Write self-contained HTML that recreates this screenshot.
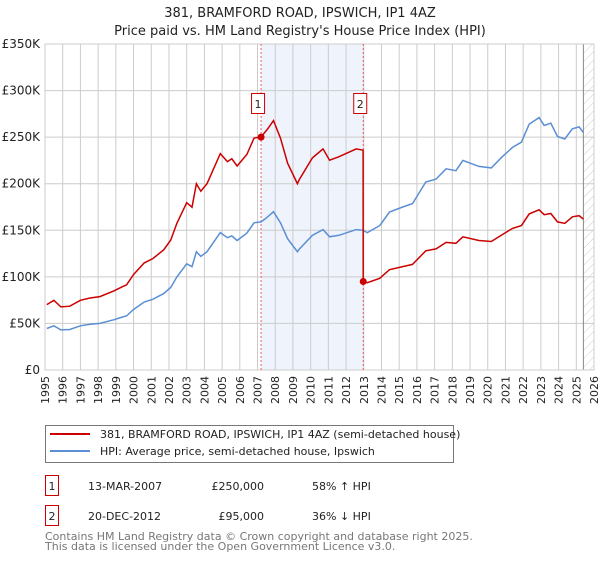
<!DOCTYPE html>
<html><head><meta charset="utf-8"><style>
body{margin:0;background:#fff;font-family:"Liberation Sans","DejaVu Sans",sans-serif;}
svg text{font-family:"DejaVu Sans","Liberation Sans",sans-serif;}
</style></head><body>
<svg id="chart" width="600" height="560" xmlns="http://www.w3.org/2000/svg">
<defs><pattern id="hatch" width="6" height="6" patternUnits="userSpaceOnUse" patternTransform="rotate(45)"><line x1="0" y1="0" x2="0" y2="6" stroke="#ccc" stroke-width="1"/></pattern></defs>
<text x="300" y="17" text-anchor="middle" font-size="13" fill="#222">381, BRAMFORD ROAD, IPSWICH, IP1 4AZ</text>
<text x="300" y="35" text-anchor="middle" font-size="13" fill="#222">Price paid vs. HM Land Registry's House Price Index (HPI)</text>
<g id="plot"></g>
<rect x="45.5" y="425.5" width="408" height="37" fill="#fff" stroke="#777"/>
<line x1="50" y1="434" x2="90" y2="434" stroke="#cc0000" stroke-width="2"/>
<text x="100" y="438" font-size="11" fill="#222">381, BRAMFORD ROAD, IPSWICH, IP1 4AZ (semi-detached house)</text>
<line x1="50" y1="451" x2="90" y2="451" stroke="#5b8fd4" stroke-width="2"/>
<text x="100" y="455" font-size="11" fill="#222">HPI: Average price, semi-detached house, Ipswich</text>
<rect x="45.5" y="475.5" width="13" height="20" fill="#fff" stroke="#cc0000"/>
<text x="52" y="490" text-anchor="middle" font-size="11" fill="#222">1</text>
<text x="88" y="490" font-size="11" fill="#222">13-MAR-2007</text>
<text x="264" y="490" text-anchor="end" font-size="11" fill="#222">£250,000</text>
<text x="312" y="490" font-size="11" fill="#222">58% ↑ HPI</text>
<rect x="45.5" y="505.5" width="13" height="20" fill="#fff" stroke="#cc0000"/>
<text x="52" y="520" text-anchor="middle" font-size="11" fill="#222">2</text>
<text x="88" y="520" font-size="11" fill="#222">20-DEC-2012</text>
<text x="264" y="520" text-anchor="end" font-size="11" fill="#222">£95,000</text>
<text x="312" y="520" font-size="11" fill="#222">36% ↓ HPI</text>
<text x="45" y="540" font-size="11" fill="#777">Contains HM Land Registry data © Crown copyright and database right 2025.</text>
<text x="45" y="550" font-size="11" fill="#777">This data is licensed under the Open Government Licence v3.0.</text>
</svg>
<script>
const yTicks=[0,50,100,150,200,250,300,350];
const yTickLabels=["£0","£50K","£100K","£150K","£200K","£250K","£300K","£350K"];
const xYears=[1995,1996,1997,1998,1999,2000,2001,2002,2003,2004,2005,2006,2007,2008,2009,2010,2011,2012,2013,2014,2015,2016,2017,2018,2019,2020,2021,2022,2023,2024,2025,2026];
const hpiYears=[1995.1,1995.5,1995.9,1996.4,1997.0,1997.5,1998.1,1998.9,1999.4,1999.6,2000.0,2000.6,2001.1,2001.7,2002.1,2002.45,2003.0,2003.3,2003.55,2003.8,2004.15,2004.9,2005.3,2005.55,2005.85,2006.4,2006.8,2007.2,2007.55,2007.9,2008.3,2008.7,2009.25,2009.37,2010.1,2010.7,2011.07,2011.6,2012.57,2012.97,2013.2,2013.9,2014.45,2015.2,2015.75,2016.5,2017.08,2017.65,2018.2,2018.6,2019.5,2020.2,2020.8,2021.4,2021.9,2022.34,2022.9,2023.19,2023.56,2023.94,2024.35,2024.78,2025.16,2025.4];
const hpiValues=[44.6,47.5,43,43.5,47.5,49,50,54,57,58,65,73,76,82,88.6,100,114,111,127,122,127,147.5,142,144,139,147,158,159,164,170,158,141,127,130,144.6,150.7,143,144.6,150.7,150,147.5,155,169.6,175,178.6,201.8,205,216,214,225,218.6,217,228.6,239,244.6,264,271,262.5,265,250.7,248,259,261,255];
const priceYears=[1995.1,1995.5,1995.9,1996.4,1997.0,1997.5,1998.1,1998.9,1999.4,1999.6,2000.0,2000.6,2001.1,2001.7,2002.1,2002.45,2003.0,2003.3,2003.55,2003.8,2004.15,2004.9,2005.3,2005.55,2005.85,2006.4,2006.8,2007.2,2007.55,2007.9,2008.3,2008.7,2009.25,2009.37,2010.1,2010.7,2011.07,2011.6,2012.57,2012.96,2012.97,2013.2,2013.9,2014.45,2015.2,2015.75,2016.5,2017.08,2017.65,2018.2,2018.6,2019.5,2020.2,2020.8,2021.4,2021.9,2022.34,2022.9,2023.19,2023.56,2023.94,2024.35,2024.78,2025.16,2025.4];
const priceValues=[70.2,74.8,67.7,68.5,74.8,77.2,78.8,85,89.8,91.4,102.4,115,119.7,129,139.5,157.5,179.6,174.8,200,192,200,232.3,223.7,226.8,219,231.5,248.9,250.4,258.3,267.8,248.9,222,200,204.8,227.7,237.4,225.2,229,237.4,236,95,93.7,98.4,107.7,111,113.4,128,130,137,136,143,139,138,145,152,155,167.6,172,166.7,168,159,157.5,164.5,165.7,162];
const saleYears=[2007.2,2012.97];
const saleValues=[250,95];
const saleLabels=["1","2"];
const dataEnd=2025.4;

const NS="http://www.w3.org/2000/svg";
const X0=45,X1=594,Y0=370,Y1=44;
const xs=y=>X0+(y-1995)/(2026-1995)*(X1-X0);
const ys=v=>Y0-v/350*(Y0-Y1);
const g=document.getElementById('plot');
function mk(t,a){const e=document.createElementNS(NS,t);for(const k in a)e.setAttribute(k,a[k]);g.appendChild(e);return e;}
let e;
e=mk('rect',{x:xs(saleYears[0]),y:Y1,width:xs(saleYears[1])-xs(saleYears[0]),height:Y0-Y1,fill:'#eef3fc'});


e=mk('rect',{x:xs(dataEnd),y:Y1,width:X1-xs(dataEnd),height:Y0-Y1,fill:'url(#hatch)'});


yTicks.forEach((v,i)=>{
 e=mk('line',{x1:X0,x2:X1,y1:ys(v),y2:ys(v),stroke:'#ccc'});
 
 
 e=mk('text',{x:40,y:ys(v)+4,'text-anchor':'end','font-size':12,fill:'#222'});
 e.textContent=yTickLabels[i];
 
 
});
xYears.forEach(yr=>{
 e=mk('line',{x1:xs(yr),x2:xs(yr),y1:Y1,y2:Y0,stroke:'#ccc'});
 
 
 const x=xs(yr)+4;
 e=mk('text',{x:x,y:376,'text-anchor':'end','font-size':11,fill:'#222',transform:`rotate(-90 ${x} 376)`});
 e.textContent=yr;
 
 
});
e=mk('line',{x1:xs(dataEnd),x2:xs(dataEnd),y1:Y1,y2:Y0,stroke:'#888'});


e=mk('rect',{x:X0,y:Y1,width:X1-X0,height:Y0-Y1,fill:'none',stroke:'#ccc'});


saleYears.forEach((yr,i)=>{
 e=mk('line',{x1:xs(yr),x2:xs(yr),y1:Y1,y2:Y0,stroke:'#f06060','stroke-dasharray':'2,2'});
 
 
});
function pathOf(xa,va){return xa.map((y,i)=>(i?'L':'M')+xs(y).toFixed(1)+','+ys(va[i]).toFixed(1)).join('');}
e=mk('path',{d:pathOf(hpiYears,hpiValues),fill:'none',stroke:'#5b8fd4','stroke-width':1.5});


e=mk('path',{d:pathOf(priceYears,priceValues),fill:'none',stroke:'#cc0000','stroke-width':1.5});


saleYears.forEach((yr,i)=>{
 e=mk('circle',{cx:xs(yr),cy:ys(saleValues[i]),r:3.5,fill:'#cc0000'});
 
 
 e=mk('rect',{x:xs(yr)-9.5,y:93.5,width:13,height:20,fill:'#fff',stroke:'#cc0000'});
 
 
 e=mk('text',{x:xs(yr)-3,y:108,'text-anchor':'middle','font-size':11,fill:'#222'});
 e.textContent=saleLabels[i];
 
 
});
</script>
</body></html>
